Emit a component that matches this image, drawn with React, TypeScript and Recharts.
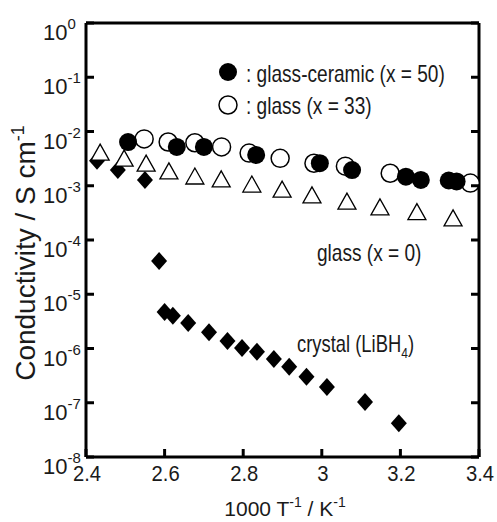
import React from 'react';
import { ScatterChart, Scatter, XAxis, YAxis } from 'recharts';

// 1000/T values and conductivities (S/cm)
const ceramicX = [2.507, 2.631, 2.7, 2.833, 2.995, 3.077, 3.214, 3.252, 3.323, 3.343];
const ceramicY = [6.4e-3, 5.2e-3, 5.2e-3, 3.7e-3, 2.6e-3, 1.95e-3, 1.47e-3, 1.28e-3, 1.25e-3, 1.2e-3];

const glass33X = [2.548, 2.609, 2.677, 2.745, 2.815, 2.894, 2.98, 3.06, 3.174, 3.378];
const glass33Y = [7.3e-3, 6.4e-3, 6.2e-3, 5.2e-3, 4.0e-3, 3.2e-3, 2.6e-3, 2.3e-3, 1.7e-3, 1.12e-3];

const glass0X = [2.436, 2.497, 2.553, 2.611, 2.677, 2.744, 2.822, 2.899, 2.975, 3.064, 3.148, 3.242, 3.334];
const glass0Y = [4.0e-3, 3.1e-3, 2.5e-3, 1.8e-3, 1.45e-3, 1.28e-3, 1.03e-3, 8.3e-4, 6.5e-4, 5.0e-4, 3.9e-4, 3.2e-4, 2.45e-4];

const crystalX = [2.428, 2.481, 2.55, 2.586, 2.6, 2.621, 2.66, 2.713, 2.76, 2.797, 2.835, 2.878, 2.917, 2.961, 3.013, 3.11, 3.196];
const crystalY = [2.9e-3, 1.95e-3, 1.28e-3, 4.1e-5, 4.7e-6, 4.0e-6, 2.95e-6, 2.0e-6, 1.38e-6, 1.02e-6, 8.7e-7, 6.4e-7, 4.6e-7, 3.0e-7, 1.96e-7, 1.03e-7, 4.2e-8];

const xTicks = [2.4, 2.6, 2.8, 3, 3.2, 3.4];
const xTickLabels = ['2.4', '2.6', '2.8', '3', '3.2', '3.4'];
const yExponents = [-8, -7, -6, -5, -4, -3, -2, -1, 0];
const yTicks = yExponents.map((e) => Math.pow(10, e));

const toPoints = (xs: number[], ys: number[]) => xs.map((x, i) => ({ x, y: ys[i] }));

const FONT = 'Arial, "Liberation Sans", sans-serif';
const INK = '#1a1a1a';

const BottomTick = (p: any) => {
  const i = xTicks.indexOf(p.payload.value);
  return (
    <g>
      <line x1={p.x} y1={p.y} x2={p.x} y2={p.y - 8} stroke="#000" strokeWidth={3} />
      <text transform={`translate(${p.x + 1},${p.y + 24}) scale(0.92,1)`} textAnchor="middle" fontSize={22} fontFamily={FONT} fill={INK}>
        {xTickLabels[i] ?? p.payload.value}
      </text>
    </g>
  );
};

const TopTick = (p: any) => (
  <line x1={p.x} y1={p.y} x2={p.x} y2={p.y + 8} stroke="#000" strokeWidth={3} />
);

const LeftTick = (p: any) => {
  const e = Math.round(Math.log10(p.payload.value));
  return (
    <g>
      <line x1={p.x} y1={p.y} x2={p.x + 8} y2={p.y} stroke="#000" strokeWidth={3} />
      <text x={p.x - 43} y={p.y + 17} fontSize={22} fontFamily={FONT} fill={INK}>
        10<tspan dy={-11} fontSize={15}>{e}</tspan>
      </text>
    </g>
  );
};

const RightTick = (p: any) => (
  <line x1={p.x} y1={p.y} x2={p.x - 8} y2={p.y} stroke="#000" strokeWidth={3} />
);

const filledCircle = (p: any) => <circle cx={p.cx} cy={p.cy} r={9} fill="#000" />;
const openCircle = (p: any) => <circle cx={p.cx} cy={p.cy} r={9} fill="#fff" stroke="#000" strokeWidth={1.5} />;
const openTriangle = (p: any) => (
  <polygon
    points={`${p.cx},${p.cy - 9} ${p.cx - 9},${p.cy + 7} ${p.cx + 9},${p.cy + 7}`}
    fill="#fff"
    stroke="#000"
    strokeWidth={1.3}
  />
);
const diamond = (p: any) => (
  <polygon points={`${p.cx},${p.cy - 9} ${p.cx + 8},${p.cy} ${p.cx},${p.cy + 9} ${p.cx - 8},${p.cy}`} fill="#000" />
);

const axisLine = { stroke: '#000', strokeWidth: 3 };

export default function App() {
  return (
    <div style={{ position: 'absolute', left: 0, top: 0, width: 497, height: 522, background: '#fff' }}>
      <ScatterChart width={497} height={522} margin={{ top: 0, right: 0, bottom: 0, left: 0 }}>
        <XAxis xAxisId="b" type="number" dataKey="x" domain={[2.4, 3.4]} ticks={xTicks} allowDataOverflow
          height={65} axisLine={axisLine} tickLine={false} tickSize={0} tickMargin={0} tick={BottomTick} interval={0} />
        <XAxis xAxisId="t" orientation="top" type="number" domain={[2.4, 3.4]} ticks={xTicks} allowDataOverflow
          height={23} axisLine={axisLine} tickLine={false} tickSize={0} tickMargin={0} tick={TopTick} interval={0} />
        <YAxis yAxisId="l" type="number" dataKey="y" scale="log" domain={[1e-8, 1]} ticks={yTicks} allowDataOverflow
          width={86} axisLine={axisLine} tickLine={false} tickSize={0} tickMargin={0} tick={LeftTick} interval={0} />
        <YAxis yAxisId="r" orientation="right" type="number" scale="log" domain={[1e-8, 1]} ticks={yTicks} allowDataOverflow
          width={18} axisLine={axisLine} tickLine={false} tickSize={0} tickMargin={0} tick={RightTick} interval={0} />
        <Scatter xAxisId="b" yAxisId="l" data={toPoints(crystalX, crystalY)} shape={diamond} isAnimationActive={false} />
        <Scatter xAxisId="b" yAxisId="l" data={toPoints(glass0X, glass0Y)} shape={openTriangle} isAnimationActive={false} />
        <Scatter xAxisId="b" yAxisId="l" data={toPoints(glass33X, glass33Y)} shape={openCircle} isAnimationActive={false} />
        <Scatter xAxisId="b" yAxisId="l" data={toPoints(ceramicX, ceramicY)} shape={filledCircle} isAnimationActive={false} />
      </ScatterChart>
      <svg width={497} height={522} style={{ position: 'absolute', left: 0, top: 0, pointerEvents: 'none' }}
        fontFamily={FONT} fill={INK}>
        <circle cx={228} cy={72} r={9} fill="#000" />
        <circle cx={228} cy={105} r={9} fill="#fff" stroke="#000" strokeWidth={1.5} />
        <text transform="translate(246,82) scale(0.83,1)" fontSize={23}>: glass-ceramic (x = 50)</text>
        <text transform="translate(246,114) scale(0.83,1)" fontSize={23}>: glass (x = 33)</text>
        <text transform="translate(317,261) scale(0.83,1)" fontSize={23}>glass (x = 0)</text>
        <text transform="translate(297,352) scale(0.8,1)" fontSize={23}>
          crystal (LiBH<tspan dy={6} fontSize={15}>4</tspan><tspan dy={-6}>)</tspan>
        </text>
        <text x={285} y={516} textAnchor="middle" fontSize={21}>
          1000 T<tspan dy={-9} fontSize={14}>-1</tspan><tspan dy={9}> / K</tspan><tspan dy={-9} fontSize={14}>-1</tspan>
        </text>
        <text transform="translate(35,253) rotate(-90)" textAnchor="middle" fontSize={28}>
          Conductivity / S cm<tspan dy={-11} fontSize={18}>-1</tspan>
        </text>
      </svg>
    </div>
  );
}
